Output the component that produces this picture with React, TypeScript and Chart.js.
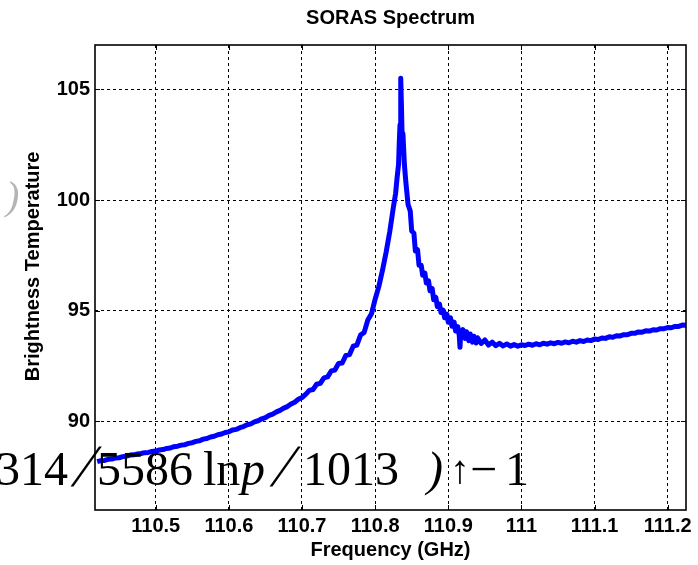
import React, { useEffect, useRef } from "react";
import { Chart, registerables } from "chart.js";

Chart.register(...registerables);

// ---- Data ----
const freqGHz = [
  110.420, 110.425, 110.430, 110.435, 110.440, 110.445, 110.450, 110.455, 110.460, 110.465,
  110.470, 110.475, 110.480, 110.485, 110.490, 110.495, 110.500, 110.505, 110.510, 110.515,
  110.520, 110.525, 110.530, 110.535, 110.540, 110.545, 110.550, 110.555, 110.560, 110.565,
  110.570, 110.575, 110.580, 110.585, 110.590, 110.595, 110.600, 110.605, 110.610, 110.615,
  110.620, 110.625, 110.630, 110.635, 110.640, 110.645, 110.650, 110.655, 110.660, 110.665,
  110.670, 110.675, 110.680, 110.685, 110.690, 110.695, 110.700,
  110.705, 110.710, 110.715, 110.720, 110.725, 110.730, 110.735, 110.740, 110.745, 110.750,
  110.755, 110.760, 110.765, 110.770, 110.775, 110.780, 110.785, 110.790, 110.795, 110.800,
  110.805, 110.810, 110.815, 110.820, 110.825,
  110.828, 110.830, 110.832, 110.833, 110.834, 110.835, 110.836, 110.837, 110.838, 110.840,
  110.842, 110.845, 110.848, 110.850, 110.853, 110.855, 110.858, 110.860, 110.863, 110.865,
  110.868, 110.870, 110.873, 110.875, 110.878, 110.880, 110.883, 110.885, 110.888, 110.890,
  110.893, 110.895, 110.898, 110.900, 110.903, 110.905, 110.908, 110.910, 110.913, 110.915,
  110.916, 110.917, 110.920, 110.923, 110.925, 110.928, 110.930, 110.933, 110.935, 110.938,
  110.940, 110.945, 110.950, 110.955, 110.960, 110.965, 110.970, 110.975, 110.980, 110.985,
  110.990, 110.995,
  111.000, 111.005, 111.010, 111.015, 111.020, 111.025, 111.030, 111.035, 111.040, 111.045,
  111.050, 111.055, 111.060, 111.065, 111.070, 111.075, 111.080, 111.085, 111.090, 111.095,
  111.100, 111.105, 111.110, 111.115, 111.120, 111.125, 111.130, 111.135, 111.140, 111.145,
  111.150, 111.155, 111.160, 111.165, 111.170, 111.175, 111.180, 111.185, 111.190, 111.195,
  111.200, 111.205, 111.210, 111.215, 111.220, 111.225,
];

const brightnessTemp = [
  88.18, 88.23, 88.24, 88.29, 88.30, 88.35, 88.36, 88.41, 88.43, 88.48,
  88.49, 88.53, 88.55, 88.59, 88.60, 88.64, 88.66, 88.71, 88.73, 88.78,
  88.80, 88.86, 88.88, 88.93, 88.95, 89.01, 89.04, 89.10, 89.13, 89.20,
  89.23, 89.30, 89.33, 89.40, 89.43, 89.50, 89.53, 89.61, 89.64, 89.72,
  89.77, 89.85, 89.89, 89.98, 90.03, 90.12, 90.17, 90.27, 90.33, 90.43,
  90.50, 90.60, 90.67, 90.79, 90.87, 91.00, 91.08,
  91.22, 91.40, 91.44, 91.68, 91.72, 91.97, 92.01, 92.28, 92.32, 92.62,
  92.64, 92.98, 93.02, 93.40, 93.45, 93.90, 94.02, 94.58, 94.86, 95.52,
  96.09, 96.82, 97.64, 98.57, 99.69,
  100.3, 101.0, 101.6, 102.6, 103.4, 105.5, 104.2, 102.7, 103.0, 101.6,
  100.8, 99.8, 99.5, 98.6, 98.5, 97.7, 97.75, 97.05, 97.05, 96.6,
  96.7, 96.25, 96.35, 95.9, 96.0, 95.5, 95.6, 95.18, 95.3, 94.92,
  95.02, 94.68, 94.85, 94.48, 94.68, 94.3, 94.48, 94.08, 94.28, 93.88,
  93.35, 93.98, 94.15, 93.75, 94.05, 93.65, 93.95, 93.58, 93.85, 93.54,
  93.78, 93.52, 93.68, 93.45, 93.58, 93.42, 93.53, 93.41, 93.5, 93.4,
  93.47, 93.4,
  93.46, 93.43, 93.49, 93.44, 93.51, 93.46, 93.53, 93.49, 93.55, 93.51,
  93.57, 93.53, 93.59, 93.55, 93.62, 93.58, 93.65, 93.61, 93.68, 93.65,
  93.72, 93.7, 93.77, 93.75, 93.82, 93.8, 93.87, 93.86, 93.92, 93.92,
  93.98, 93.98, 94.04, 94.03, 94.09, 94.08, 94.14, 94.13, 94.19, 94.19,
  94.24, 94.23, 94.29, 94.29, 94.35, 94.34,
];

const xTickValues = [110.5, 110.6, 110.7, 110.8, 110.9, 111.0, 111.1, 111.2];
const xTickLabels = ["110.5", "110.6", "110.7", "110.8", "110.9", "111", "111.1", "111.2"];
const yTickValues = [90, 95, 100, 105];
const yTickLabels = ["90", "95", "100", "105"];

const chartTitle = "SORAS Spectrum";
const xAxisTitle = "Frequency (GHz)";
const yAxisTitle = "    Brightness Temperature";

const SANS = "'Liberation Sans', Arial, Helvetica, sans-serif";
const SERIF = "'Liberation Serif', 'Times New Roman', serif";

function labelFor(values: number[], labels: string[], v: number): string {
  const i = values.findIndex((t) => Math.abs(t - v) < 1e-6);
  return i >= 0 ? labels[i] : "";
}

const overlayBase: React.CSSProperties = {
  position: "absolute",
  fontFamily: SERIF,
  fontSize: 48,
  lineHeight: 1,
  color: "#000",
  whiteSpace: "pre",
  top: 445,
};

const slashStyle: React.CSSProperties = {
  ...overlayBase,
  top: 436,
  fontSize: 60,
  display: "inline-block",
  transform: "skewX(-20deg)",
  transformOrigin: "left bottom",
};

export default function App() {
  const canvasRef = useRef<HTMLCanvasElement>(null);

  useEffect(() => {
    const canvas = canvasRef.current;
    if (!canvas) return;
    const points = freqGHz.map((f, i) => ({ x: f, y: brightnessTemp[i] }));

    const frame = {
      id: "matlabFrame",
      afterDraw(chart: any) {
        const { ctx, chartArea, scales } = chart;
        const { left, top, right, bottom } = chartArea;
        ctx.save();
        ctx.setLineDash([]);
        ctx.strokeStyle = "#000";
        ctx.lineWidth = 1;
        xTickValues.forEach((v) => {
          const px = Math.round(scales.x.getPixelForValue(v)) + 0.5;
          ctx.beginPath();
          ctx.moveTo(px, bottom);
          ctx.lineTo(px, bottom - 5);
          ctx.moveTo(px, top);
          ctx.lineTo(px, top + 5);
          ctx.stroke();
        });
        yTickValues.forEach((v) => {
          const py = Math.round(scales.y.getPixelForValue(v)) + 0.5;
          ctx.beginPath();
          ctx.moveTo(left, py);
          ctx.lineTo(left + 5, py);
          ctx.moveTo(right, py);
          ctx.lineTo(right - 5, py);
          ctx.stroke();
        });
        ctx.lineWidth = 1.6;
        ctx.strokeRect(left, top, right - left, bottom - top);
        ctx.restore();
      },
    };

    const textFont = { family: SANS, size: 20, weight: "bold" as const };

    const chart = new Chart(canvas, {
      type: "line",
      data: {
        datasets: [
          {
            data: points,
            borderColor: "#0000ff",
            backgroundColor: "#0000ff",
            borderWidth: 5,
            borderJoinStyle: "round",
            pointRadius: 0,
            tension: 0,
            fill: false,
          },
        ],
      },
      options: {
        animation: false,
        responsive: false,
        devicePixelRatio: 1,
        layout: { padding: { left: 0, right: 12, top: 0, bottom: 0 } },
        plugins: {
          legend: { display: false },
          tooltip: { enabled: false },
          title: {
            display: true,
            text: chartTitle,
            fullSize: false,
            color: "#000",
            font: textFont,
            padding: { top: 6, bottom: 15 },
          },
        },
        scales: {
          x: {
            type: "linear",
            min: 110.417,
            max: 111.225,
            afterBuildTicks: (s: any) => {
              s.ticks = xTickValues.map((v) => ({ value: v }));
            },
            afterFit: (s: any) => {
              s.height = 55;
              s.paddingLeft = 0;
              s.paddingRight = 0;
            },
            ticks: {
              autoSkip: false,
              maxRotation: 0,
              color: "#000",
              padding: 4,
              font: textFont,
              callback: (v: any) => labelFor(xTickValues, xTickLabels, Number(v)),
            },
            grid: { color: "#000", lineWidth: 1, drawTicks: false },
            border: { display: false, dash: [3, 3] },
            title: {
              display: true,
              text: xAxisTitle,
              color: "#000",
              font: textFont,
              padding: { top: 0, bottom: 3 },
            },
          },
          y: {
            type: "linear",
            min: 86,
            max: 107,
            afterBuildTicks: (s: any) => {
              s.ticks = yTickValues.map((v) => ({ value: v }));
            },
            afterFit: (s: any) => {
              s.width = 95;
              s.paddingTop = 0;
              s.paddingBottom = 0;
            },
            ticks: {
              autoSkip: false,
              color: "#000",
              padding: 5,
              font: textFont,
              callback: (v: any) => labelFor(yTickValues, yTickLabels, Number(v)),
            },
            grid: { color: "#000", lineWidth: 1, drawTicks: false },
            border: { display: false, dash: [3, 3] },
            title: {
              display: true,
              text: yAxisTitle,
              color: "#000",
              font: textFont,
              padding: { top: 21, bottom: 0 },
            },
          },
        },
      },
      plugins: [frame],
    } as any);

    return () => chart.destroy();
  }, []);

  return (
    <div
      style={{
        position: "fixed",
        left: 0,
        top: 0,
        width: 698,
        height: 565,
        overflow: "hidden",
        background: "#fff",
      }}
    >
      <canvas
        ref={canvasRef}
        width={698}
        height={565}
        style={{ position: "absolute", left: 0, top: 0, width: 698, height: 565 }}
      />
      <span
        style={{
          position: "absolute",
          left: 6,
          top: 176,
          fontFamily: SERIF,
          fontStyle: "italic",
          fontSize: 40,
          lineHeight: 1,
          color: "#b5b5b5",
        }}
      >
        )
      </span>
      <span style={{ ...overlayBase, left: -4 }}>314</span>
      <span style={{ ...slashStyle, left: 67 }}>/</span>
      <span style={{ ...overlayBase, left: 97 }}>5586</span>
      <span style={{ ...overlayBase, left: 203 }}>ln</span>
      <span style={{ ...overlayBase, left: 241, fontStyle: "italic" }}>p</span>
      <span style={{ ...slashStyle, left: 266 }}>/</span>
      <span style={{ ...overlayBase, left: 303 }}>1013</span>
      <span style={{ ...overlayBase, left: 427, fontStyle: "italic" }}>)</span>
      <span style={{ ...overlayBase, left: 450, fontSize: 40, top: 450 }}>↑</span>
      <span style={{ ...overlayBase, left: 470 }}>−</span>
      <span style={{ ...overlayBase, left: 505 }}>1</span>
    </div>
  );
}
